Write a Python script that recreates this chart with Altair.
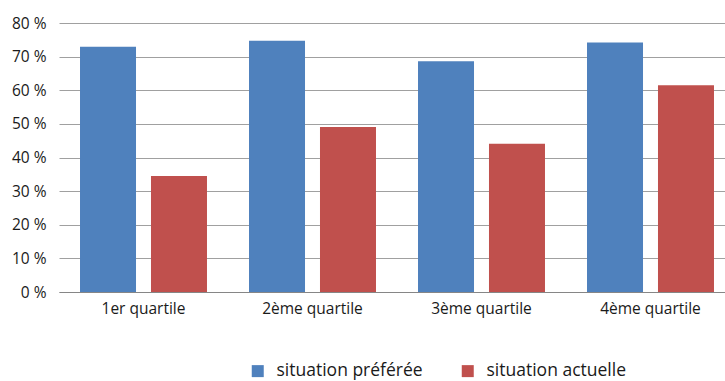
import altair as alt
import pandas as pd

categories = ["1er quartile", "2ème quartile", "3ème quartile", "4ème quartile"]
series = ["situation préférée", "situation actuelle"]
pref = [72.9, 74.7, 68.6, 74.2]
actuelle = [34.5, 49.1, 44.1, 61.5]
y_ticks = [0, 10, 20, 30, 40, 50, 60, 70, 80]
colors = ["#4F81BD", "#C0504D"]

rows = []
for c, p, a in zip(categories, pref, actuelle):
    rows.append({"cat": c, "series": series[0], "value": p})
    rows.append({"cat": c, "series": series[1], "value": a})
df = pd.DataFrame(rows)

FONT = "Open Sans"
TXT = "#1a1a1a"

chart = alt.Chart(df).mark_bar().encode(
    x=alt.X("cat:N", sort=categories,
            scale=alt.Scale(range=[0, 676], paddingInner=0, paddingOuter=0),
            axis=alt.Axis(title=None, labelAngle=0, ticks=False, domainColor="#868686",
                          labelPadding=9, labelFontSize=15.5, labelFont=FONT, labelColor=TXT,
                          grid=False)),
    xOffset=alt.XOffset("series:N", sort=series,
                        scale=alt.Scale(paddingInner=0.211, paddingOuter=0.296)),
    y=alt.Y("value:Q", scale=alt.Scale(domain=[0, 80], nice=False),
            axis=alt.Axis(values=y_ticks, labelExpr="datum.value + ' %'", grid=True,
                          domain=False, ticks=False, gridColor="#A0A0A0", labelPadding=13,
                          title=None, labelFontSize=15.5, labelFont=FONT, labelColor=TXT)),
    color=alt.Color("series:N", sort=series,
                    scale=alt.Scale(domain=series, range=colors),
                    legend=alt.Legend(orient="none", legendX=190, legendY=339,
                                      direction="horizontal", title=None, symbolType="square",
                                      symbolSize=144, symbolStrokeWidth=0, labelFontSize=17.5,
                                      labelFont=FONT, labelColor=TXT, columnPadding=36,
                                      labelOffset=10, padding=0)),
).properties(
    width=666, height=269,
    autosize=alt.AutoSizeParams(type="none"),
    padding={"left": 59, "top": 23, "right": 0, "bottom": 89},
).configure_view(stroke=None)

chart.save("out.html", embed_options={"renderer": "svg", "actions": False})
